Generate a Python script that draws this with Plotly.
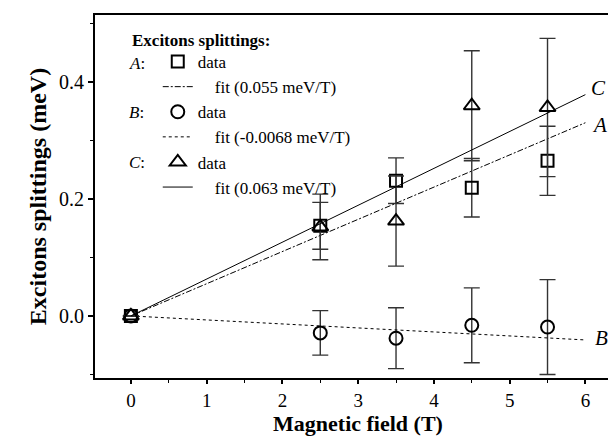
import plotly.graph_objects as go

# ---------------- data ----------------
field = [0, 2.5, 3.5, 4.5, 5.5]

a_split = [0, 0.154, 0.231, 0.219, 0.265]
a_err = [0, 0.040, 0.039, 0.050, 0.059]

b_split = [0, -0.029, -0.038, -0.016, -0.019]
b_err = [0, 0.038, 0.052, 0.064, 0.081]

c_split = [0, 0.152, 0.162, 0.359, 0.356]
c_err = [0, 0.056, 0.077, 0.094, 0.118]

fit_field = [0, 6]
a_fit = [0, 0.330]
b_fit = [0, -0.041]
c_fit = [0, 0.378]

fit_names = ["fit (0.055 meV/T)", "fit (-0.0068 meV/T)", "fit (0.063 meV/T)"]
x_ticks = [0, 1, 2, 3, 4, 5, 6]
y_ticks = [0.0, 0.2, 0.4]

FONT = "Liberation Serif"
NB = "\u00a0" * 4

fig = go.Figure()


def err(vals, color="#333333"):
    return dict(type="data", array=vals, visible=True, color=color,
                thickness=1.4, width=8)


fig.add_trace(go.Scatter(x=field, y=a_split, mode="markers", name="data",
                         error_y=err(a_err),
                         marker=dict(symbol="square-open", size=12, color="black",
                                     line=dict(width=2, color="black"))))
fig.add_trace(go.Scatter(x=fit_field, y=a_fit, mode="lines", name=NB + fit_names[0],
                         line=dict(color="black", width=1, dash="6px,2px,2px,2px")))
fig.add_trace(go.Scatter(x=field, y=b_split, mode="markers", name="data",
                         error_y=err(b_err),
                         marker=dict(symbol="circle-open", size=13, color="black",
                                     line=dict(width=2, color="black"))))
fig.add_trace(go.Scatter(x=fit_field, y=b_fit, mode="lines", name=NB + fit_names[1],
                         line=dict(color="black", width=1, dash="dot")))
fig.add_trace(go.Scatter(x=field, y=c_split, mode="markers", name="data",
                         error_y=err(c_err),
                         marker=dict(symbol="triangle-up-open", size=14, color="black",
                                     line=dict(width=2, color="black"))))
fig.add_trace(go.Scatter(x=fit_field, y=c_fit, mode="lines", name=NB + fit_names[2],
                         line=dict(color="black", width=1)))

PT, PB = 7, 370
PH = PB - PT

annotations = [
    dict(text="<b>Excitons splittings:</b>", xref="paper", yref="paper",
         x=(122 - 87) / 528, y=(PB - 32) / PH, xanchor="left", yanchor="middle",
         showarrow=False, font=dict(family=FONT, size=17, color="black")),
]
for i, lab in enumerate(["A", "B", "C"]):
    ypix = 55 + i * 49.5
    annotations.append(dict(text="<i>%s</i>:" % lab, xref="paper", yref="paper",
                            x=(119 - 87) / 528, y=(PB - ypix) / PH,
                            xanchor="left", yanchor="middle", showarrow=False,
                            font=dict(family=FONT, size=17, color="black")))
for lab, xx, yy in [("C", 6.17, 0.39), ("A", 6.18, 0.326), ("B", 6.21, -0.038)]:
    annotations.append(dict(text="<i>%s</i>" % lab, x=xx, y=yy, xref="x", yref="y",
                            xanchor="center", yanchor="middle", showarrow=False,
                            font=dict(family=FONT, size=21, color="black")))

fig.update_layout(
    width=616, height=438,
    margin=dict(l=87, r=1, t=PT, b=438 - PB),
    paper_bgcolor="white", plot_bgcolor="white",
    font=dict(family=FONT, size=20, color="black"),
    showlegend=True,
    legend=dict(x=(150 - 87) / 528, y=(PB - 36) / PH, xanchor="left", yanchor="top",
                bgcolor="rgba(0,0,0,0)", font=dict(family=FONT, size=17, color="black"),
                tracegroupgap=0, itemwidth=30),
    annotations=annotations,
    xaxis=dict(range=[-0.474, 6.47], tickvals=x_ticks, ticktext=[str(t) for t in x_ticks],
               showline=True, linewidth=2, linecolor="black", mirror=True,
               ticks="outside", ticklen=4, tickwidth=1.5, tickcolor="black",
               tickfont=dict(family=FONT, size=19),
               minor=dict(dtick=0.5, ticks="outside", ticklen=3, tickwidth=1.2, tickcolor="black"),
               showgrid=False, zeroline=False,
               title=dict(text="<b>Magnetic field (T)</b>", font=dict(family=FONT, size=22),
                          standoff=0)),
    yaxis=dict(range=[-0.106, 0.514], tickvals=y_ticks, ticktext=["%.1f" % t for t in y_ticks],
               showline=True, linewidth=2, linecolor="black", mirror=True,
               ticks="outside", ticklen=5, tickwidth=1.5, tickcolor="black",
               tickfont=dict(family=FONT, size=20),
               minor=dict(dtick=0.1, ticks="outside", ticklen=3, tickwidth=1.2, tickcolor="black"),
               showgrid=False, zeroline=False,
               title=dict(text="<b>Excitons splittings (meV)</b>", font=dict(family=FONT, size=24),
                          standoff=6)),
)

fig.write_html("out.html")
